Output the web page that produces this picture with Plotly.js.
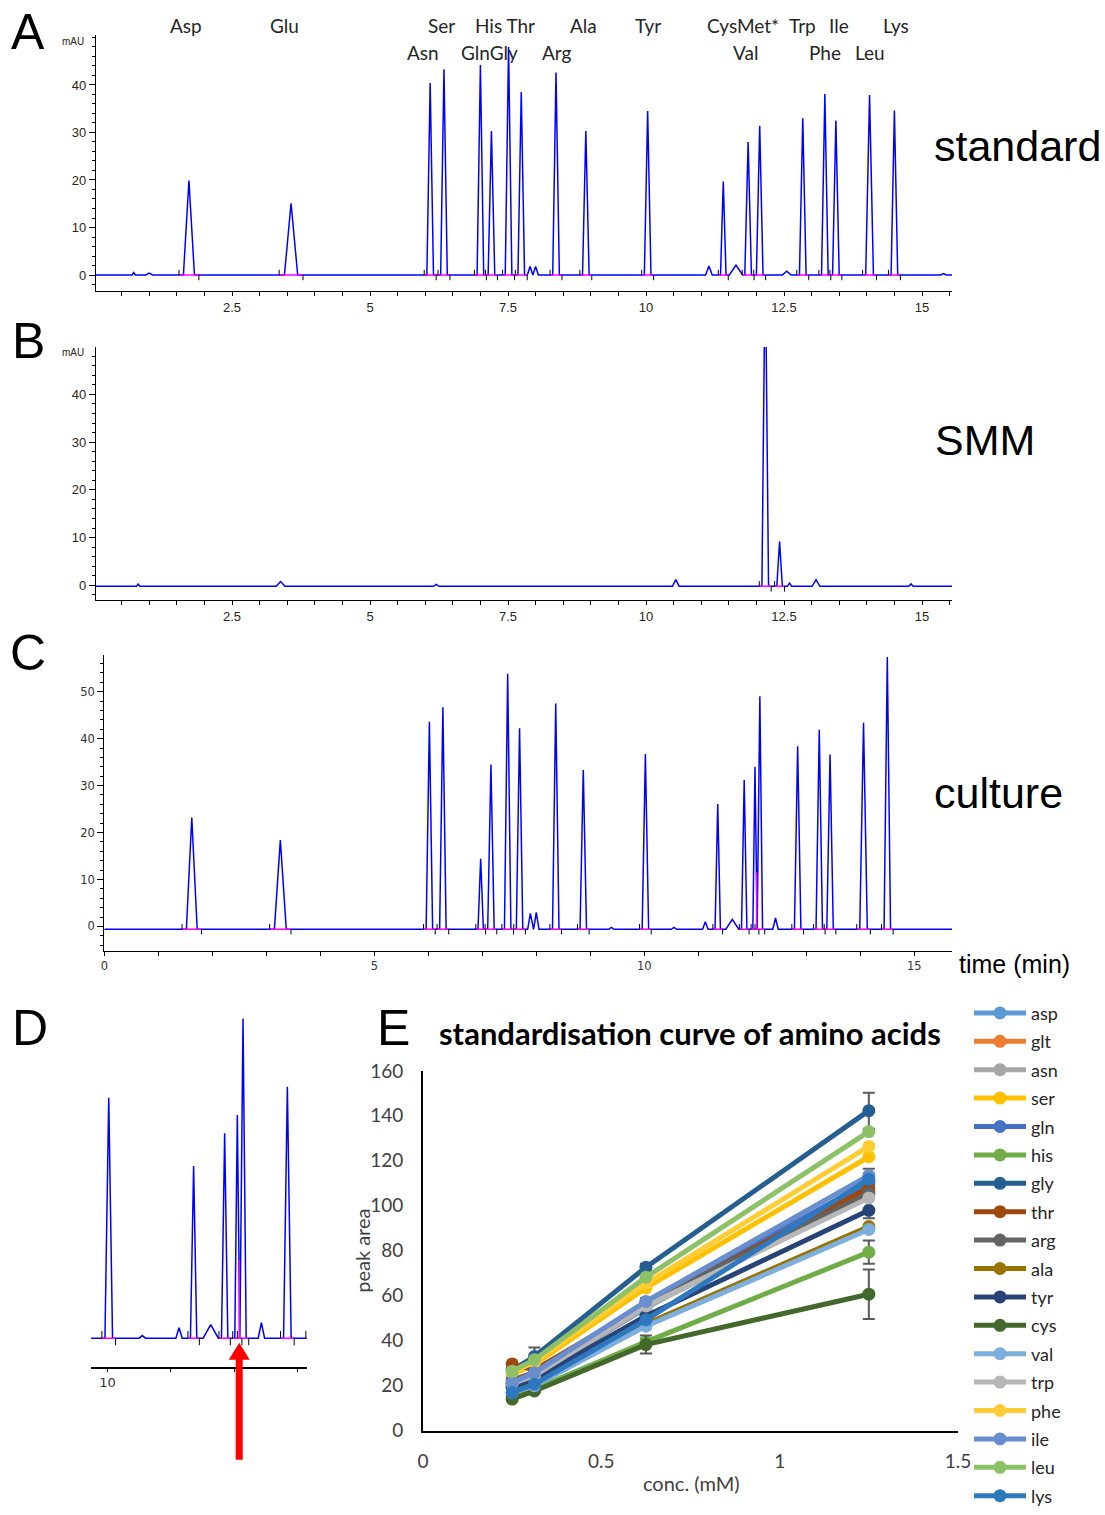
<!DOCTYPE html>
<html>
<head>
<meta charset="utf-8">
<script src="https://cdn.plot.ly/plotly-3.0.1.min.js"></script>
<style>
  html, body { margin: 0; padding: 0; background: #ffffff; width: 1105px; height: 1515px; overflow: hidden; }
  #fig { position: absolute; left: 0; top: 0; width: 1105px; height: 1515px; }
</style>
</head>
<body>
<div id="fig"></div>
<script>
// ---------- Panel A: amino acid standard (retention time min, apex mAU, half-width min)
const stdTime   = [0.72, 1.00, 1.72, 3.57, 6.09, 6.34, 7.00, 7.20, 7.51, 7.74, 7.90, 8.00, 8.37, 8.91, 10.03, 11.14, 11.40, 11.63, 11.85, 12.06, 12.55, 12.84, 13.24, 13.44, 14.05, 14.50, 15.39];
const stdApex   = [0.5, 0.4, 19.9, 15.1, 40.4, 43.3, 44.2, 30.3, 48.0, 38.5, 1.8, 1.8, 42.6, 30.3, 34.5, 1.9, 19.7, 2.1, 28.0, 31.4, 0.8, 33.0, 38.1, 32.5, 37.9, 34.6, 0.3];
const stdWidth  = [0.03, 0.06, 0.10, 0.12, 0.06, 0.06, 0.06, 0.06, 0.06, 0.06, 0.05, 0.05, 0.06, 0.06, 0.06, 0.06, 0.05, 0.12, 0.06, 0.06, 0.08, 0.06, 0.06, 0.06, 0.07, 0.06, 0.05];
const stdBase   = 0;

// peak names printed above the standard trace (row 1 = upper line, row 2 = lower line)
const stdLabels    = ['Asp', 'Glu', 'Ser', 'His Thr', 'Ala', 'Tyr', 'CysMet*', 'Trp', 'Ile', 'Lys', 'Asn', 'GlnGly', 'Arg', 'Val', 'Phe', 'Leu'];
const stdLabelTime = [1.67, 3.46, 6.29, 7.45, 8.86, 10.04, 11.76, 12.83, 13.49, 14.53, 5.96, 7.16, 8.39, 11.81, 13.24, 14.05];
const stdLabelRow  = [1, 1, 1, 1, 1, 1, 1, 1, 1, 1, 2, 2, 2, 2, 2, 2];

// ---------- Panel B: SMM medium blank
const smmTime  = [0.80, 3.38, 6.20, 10.54, 12.16, 12.42, 12.60, 13.08, 14.80];
const smmApex  = [0.3, 0.8, 0.2, 1.2, 70.0, 9.2, 0.5, 1.2, 0.3];
const smmWidth = [0.03, 0.08, 0.05, 0.06, 0.06, 0.05, 0.04, 0.07, 0.04];
const smmBase  = -0.2;

// ---------- Panel C / D: culture supernatant
const culTime  = [1.62, 3.26, 6.02, 6.27, 6.97, 7.16, 7.47, 7.69, 7.89, 8.00, 8.36, 8.87, 9.39, 10.02, 10.55, 11.13, 11.36, 11.63, 11.85, 12.05, 12.14, 12.43, 12.84, 13.24, 13.44, 14.06, 14.50];
const culApex  = [23.2, 18.4, 43.6, 46.7, 14.4, 34.5, 53.8, 42.2, 2.8, 3.0, 47.5, 33.3, -0.2, 36.7, -0.2, 1.0, 26.1, 1.5, 31.2, 34.0, 49.0, 1.8, 38.4, 41.9, 36.6, 43.4, 57.4];
const culWidth = [0.10, 0.11, 0.06, 0.06, 0.05, 0.06, 0.06, 0.06, 0.05, 0.05, 0.06, 0.06, 0.05, 0.06, 0.05, 0.05, 0.05, 0.12, 0.05, 0.04, 0.05, 0.05, 0.06, 0.06, 0.06, 0.07, 0.06];
const culBase  = -0.6;
const culSplitTime = 12.08;   // drop line between co-eluting peaks
const culSplitApex = 11.5;

// ---------- Panel E: standardisation curves
const conc = [0.25, 0.3125, 0.625, 1.25];
const asp = [21, 24.5, 54.5, 109.5];
const glt = [20.5, 24, 55.5, 106.5];
const asn = [20, 23.5, 55, 104];
const ser = [25, 29.5, 63.5, 121.8];
const gln = [21, 25, 56.5, 110.5];
const his = [15.5, 18.5, 39.5, 79.4];
const gly = [27, 33, 72.7, 142.3];
const thr = [29.7, 27, 56, 108];
const arg = [22.5, 26, 57, 105.5];
const ala = [19, 22.5, 47.5, 90.8];
const tyr = [19.5, 23, 51, 98];
const cys = [14.1, 17.7, 38.3, 60.7];
const val = [17, 20, 46.5, 89.5];
const trp = [21, 24.5, 55.5, 103.5];
const phe = [26, 30.5, 65.5, 126.4];
const ile = [21.4, 25.8, 57.5, 113.5];
const leu = [26.5, 31.6, 68.3, 133];
const lys = [17, 20.7, 49.3, 111.8];

const glyErr = [1, 4, 1.5, 8];
const hisErr = [1, 1, 1.5, 5.2];
const argErr = [1, 1.5, 2, 11];
const cysErr = [1, 1, 4, 11];

const seriesNames  = ['asp', 'glt', 'asn', 'ser', 'gln', 'his', 'gly', 'thr', 'arg', 'ala', 'tyr', 'cys', 'val', 'trp', 'phe', 'ile', 'leu', 'lys'];
const seriesValues = [asp, glt, asn, ser, gln, his, gly, thr, arg, ala, tyr, cys, val, trp, phe, ile, leu, lys];
const seriesErrors = { gly: glyErr, his: hisErr, arg: argErr, cys: cysErr };
const seriesColors = ['#5B9BD5', '#ED7D31', '#A5A5A5', '#FFC000', '#4472C4', '#70AD47', '#255E91', '#9E480E', '#636363', '#997300', '#264478', '#43682B', '#7CAFDD', '#B7B7B7', '#FFCD33', '#698ED0', '#8CC168', '#2E78C0'];

// ---------- page geometry helpers (pixels -> paper fractions)
const W = 1105, H = 1515;
const px = v => v / W;
const py = v => 1 - v / H;

// chromatogram line built from the peak table: baseline, apex, baseline for each peak
function chromatogram(times, apex, widths, base, tStart, tEnd) {
  const x = [tStart], y = [base];
  times.forEach((t, i) => {
    x.push(t - widths[i], t, t + widths[i]);
    y.push(base, apex[i], base);
  });
  x.push(tEnd); y.push(base);
  return { x, y };
}
// integration baselines (magenta) and start/end markers (black) for integrated peaks
function integration(times, apex, widths, base, minHeight) {
  const x = [], y = [], mx = [], my = [];
  times.forEach((t, i) => {
    if (apex[i] - base >= minHeight) {
      const a = t - 1.8 * widths[i], b = t + 1.8 * widths[i];
      x.push(a, b, null);
      y.push(base, base, null);
      mx.push(a, a, null, b, b, null);
      my.push(base, base + 1.1, null, base, base - 1.1, null);
    }
  });
  return { x, y, mx, my };
}

const BLUE = '#0000ff', MAGENTA = '#ff00ff';
const traces = [];

function addChrom(times, apex, widths, base, tStart, tEnd, xa, ya, split) {
  const c = chromatogram(times, apex, widths, base, tStart, tEnd);
  traces.push({ x: c.x, y: c.y, xaxis: xa, yaxis: ya, type: 'scatter', mode: 'lines',
    line: { color: BLUE, width: 1.5 }, showlegend: false, hoverinfo: 'skip' });
  const g = integration(times, apex, widths, base, 5);
  if (split) {
    g.x.push(split[0], split[0], null);
    g.y.push(base, split[1], null);
  }
  traces.push({ x: g.x, y: g.y, xaxis: xa, yaxis: ya, type: 'scatter', mode: 'lines',
    line: { color: MAGENTA, width: 1.5 }, showlegend: false, hoverinfo: 'skip', connectgaps: false });
  traces.push({ x: g.mx, y: g.my, xaxis: xa, yaxis: ya, type: 'scatter', mode: 'lines',
    line: { color: '#000000', width: 1 }, showlegend: false, hoverinfo: 'skip', connectgaps: false });
}

addChrom(stdTime, stdApex, stdWidth, stdBase, 0, 15.6, 'x', 'y');
addChrom(smmTime, smmApex, smmWidth, smmBase, 0, 15.6, 'x2', 'y2');
addChrom(culTime, culApex, culWidth, culBase, 0, 15.7, 'x3', 'y3', [culSplitTime, culSplitApex]);
addChrom(culTime, culApex, culWidth, culBase, 0, 15.7, 'x4', 'y4', [culSplitTime, culSplitApex]);

seriesNames.forEach((name, i) => {
  const tr = {
    x: conc, y: seriesValues[i], name: name, xaxis: 'x5', yaxis: 'y5',
    type: 'scatter', mode: 'lines+markers', legendgroup: name,
    line: { color: seriesColors[i], width: 5 },
    marker: { color: seriesColors[i], size: 13 },
    hoverinfo: 'skip'
  };
  if (seriesErrors[name]) {
    tr.error_y = { type: 'data', array: seriesErrors[name], color: '#595959', thickness: 2, width: 6 };
  }
  traces.push(tr);
});

// ---------- axes
const narrowFont = { family: 'Liberation Sans Narrow, Liberation Sans, Arial', size: 13, color: '#2d2416' };
const wideFont = { family: 'DejaVu Sans, Verdana', size: 11.5, color: '#333333' };

function chromX(domain, range, tickFont, dtick, minorD, anchor) {
  return {
    domain, range, anchor, showline: true, linecolor: '#000', linewidth: 1.2,
    showgrid: false, zeroline: false, ticks: 'outside', ticklen: 4, tickcolor: '#000', tickwidth: 1,
    tickmode: 'linear', tick0: 0, dtick, tickfont: tickFont,
    minor: { dtick: minorD, tick0: 0, ticks: 'outside', ticklen: 4, tickcolor: '#000', showgrid: false },
    fixedrange: true
  };
}
function chromY(domain, range, tickvals, tickFont, anchor) {
  return {
    domain, range, anchor, showline: true, linecolor: '#000', linewidth: 1.2,
    showgrid: false, zeroline: false, ticks: 'outside', ticklen: 6, tickcolor: '#000', tickwidth: 1,
    tickmode: 'array', tickvals, tickfont: tickFont,
    minor: { dtick: 2, tick0: 0, ticks: 'outside', ticklen: 3, tickcolor: '#000', showgrid: false },
    fixedrange: true
  };
}

// time axis A/B: t = 0 at x=94 px, 55.2 px per minute
const abRange = [(96 - 94) / 55.2, (952 - 94) / 55.2];
// time axis C: t = 0 at x=104.3 px, 54 px per minute
const cRange = [0, (952 - 104.3) / 54];

const layout = {
  width: W, height: H,
  margin: { l: 0, r: 0, t: 0, b: 0, pad: 0 },
  paper_bgcolor: '#ffffff', plot_bgcolor: 'rgba(0,0,0,0)',
  showlegend: true,
  font: { family: 'Lato, Liberation Sans, Arial', color: '#262626' },

  xaxis:  chromX([px(96), px(952)], abRange, narrowFont, 2.5, 0.5, 'y'),
  yaxis:  chromY([py(294), py(35)], [-3.3, 50.6], [0, 10, 20, 30, 40], narrowFont, 'x'),
  xaxis2: chromX([px(96), px(952)], abRange, narrowFont, 2.5, 0.5, 'y2'),
  yaxis2: chromY([py(607), py(351)], [-3.1, 49.9], [0, 10, 20, 30, 40], narrowFont, 'x2'),
  xaxis3: chromX([px(104.3), px(952)], cRange, wideFont, 5, 1, 'y3'),
  yaxis3: chromY([py(962), py(662)], [-5.27, 57.9], [0, 10, 20, 30, 40, 50], wideFont, 'x3'),
  xaxis4: Object.assign(chromX([px(91), px(307)], [9.74, 13.15], Object.assign({}, wideFont, { size: 13 }), 1, 1, 'y4'),
          { tickmode: 'array', tickvals: [10, 11, 12, 13], ticktext: ['10', '', '', ''], ticklen: 3,
            minor: { showgrid: false, ticks: '' } }),
  yaxis4: { domain: [py(1383), py(1025)], range: [-5.15, 49.76], anchor: 'x4', visible: false, fixedrange: true },

  xaxis5: {
    domain: [px(423), px(958)], range: [0, 1.5], anchor: 'y5',
    showline: true, linecolor: '#000', linewidth: 2, showgrid: false, zeroline: false, ticks: '',
    tickmode: 'linear', tick0: 0, dtick: 0.5, ticklabelstandoff: 12,
    tickfont: { family: 'Lato, Liberation Sans', size: 19, color: '#404040' }, fixedrange: true
  },
  yaxis5: {
    domain: [py(1447), py(1083)], range: [0, 160], anchor: 'x5',
    showline: true, linecolor: '#000', linewidth: 2, showgrid: false, zeroline: false, ticks: '',
    tickmode: 'linear', tick0: 0, dtick: 20, ticklabelstandoff: 14,
    tickfont: { family: 'Lato, Liberation Sans', size: 19, color: '#404040' }, fixedrange: true
  },

  legend: {
    x: px(969), y: py(1006), xanchor: 'left', yanchor: 'top',
    traceorder: 'grouped', tracegroupgap: 2, itemwidth: 52,
    font: { family: 'Lato, Liberation Sans', size: 18, color: '#262626' },
    bgcolor: 'rgba(0,0,0,0)'
  },

  annotations: [],
  shapes: []
};

// panel letters and sample names
const big = { family: 'Liberation Sans, Arial', color: '#000000' };
[['A', 28, 32], ['B', 28, 345], ['C', 28, 660], ['D', 30, 1040], ['E', 393, 1040]].forEach(([t, x, y]) => {
  layout.annotations.push({ text: t, xref: 'paper', yref: 'paper', x: px(x), y: py(y),
    xanchor: 'center', yanchor: 'middle', showarrow: false, font: Object.assign({ size: 50 }, big) });
});
[['standard', 932, 148], ['SMM', 933, 445], ['culture', 932, 802]].forEach(([t, x, y]) => {
  layout.annotations.push({ text: t, xref: 'paper', yref: 'paper', x: px(x), y: py(y),
    xanchor: 'left', yanchor: 'middle', showarrow: false, font: Object.assign({ size: 43 }, big) });
});
layout.annotations.push({ text: 'time (min)', xref: 'paper', yref: 'paper', x: px(957), y: py(975),
  xanchor: 'left', yanchor: 'middle', showarrow: false, font: Object.assign({ size: 25 }, big) });

// mAU unit labels
[42, 356].forEach(y => {
  layout.annotations.push({ text: 'mAU', xref: 'paper', yref: 'paper', x: px(86), y: py(y),
    xanchor: 'right', yanchor: 'middle', showarrow: false,
    font: { family: 'Liberation Sans Narrow, Liberation Sans', size: 10, color: '#2d2416' } });
});

// peak names above panel A
stdLabels.forEach((t, i) => {
  layout.annotations.push({ text: t, xref: 'x', yref: 'paper', x: stdLabelTime[i],
    y: py(stdLabelRow[i] === 1 ? 26 : 53), xanchor: 'center', yanchor: 'middle', showarrow: false,
    font: { family: 'Lato, Liberation Sans', size: 19, color: '#262626' } });
});

// panel E titles
layout.annotations.push({ text: '<b>standardisation curve of amino acids</b>', xref: 'paper', yref: 'paper',
  x: px(690), y: py(1045), xanchor: 'center', yanchor: 'middle', showarrow: false,
  font: { family: 'Lato, Liberation Sans', size: 31, color: '#000000' } });
layout.annotations.push({ text: 'conc. (mM)', xref: 'paper', yref: 'paper', x: px(691), y: py(1500),
  xanchor: 'center', yanchor: 'middle', showarrow: false,
  font: { family: 'Lato, Liberation Sans', size: 20, color: '#404040' } });
layout.annotations.push({ text: 'peak area', xref: 'paper', yref: 'paper', x: px(362), y: py(1265),
  xanchor: 'center', yanchor: 'middle', showarrow: false, textangle: -90,
  font: { family: 'Lato, Liberation Sans', size: 20, color: '#404040' } });

// red arrow under the split peak in D
layout.shapes.push({
  type: 'path', xref: 'x4', yref: 'paper', xsizemode: 'pixel', ysizemode: 'pixel',
  xanchor: culSplitTime, yanchor: py(1358),
  path: 'M0,0 L10.5,-17 L3.5,-17 L3.5,-117 L-3.5,-117 L-3.5,-17 L-10.5,-17 Z',
  fillcolor: '#ff0000', line: { width: 0 }
});

Plotly.newPlot('fig', traces, layout, { staticPlot: true, displayModeBar: false });
</script>
</body>
</html>
